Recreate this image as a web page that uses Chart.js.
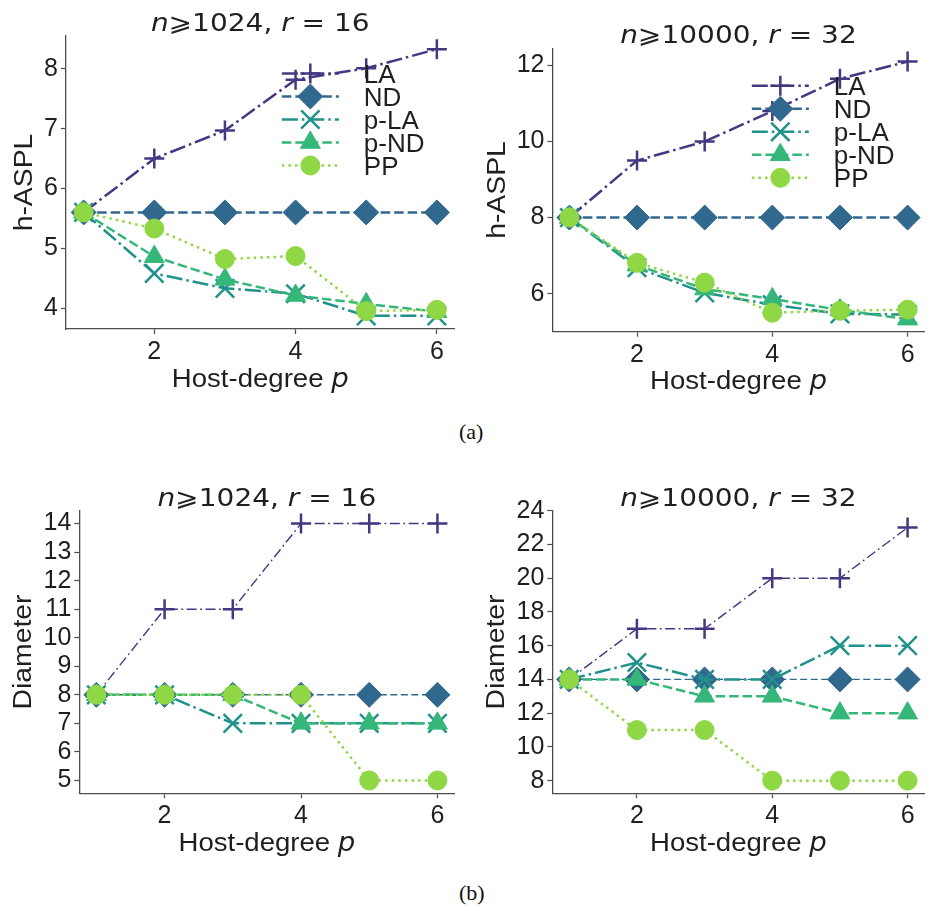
<!DOCTYPE html>
<html>
<head>
<meta charset="utf-8">
<script src="https://cdn.jsdelivr.net/npm/chart.js@4.4.1/dist/chart.umd.min.js"></script>
<style>
  html, body { margin: 0; padding: 0; background: #fff; overflow: hidden; }
  body { width: 930px; height: 911px; position: relative; }
  .panel { position: absolute; width: 470px; height: 400px; }
  .panel canvas { display: block; }
  .caption { position: absolute; left: 459px; font-family: "Liberation Serif", serif; font-size: 22px; line-height: 24px; color: #111; }
</style>
</head>
<body>
<div class="panel" style="left:0;top:0"><canvas id="asplN1024" width="470" height="400"></canvas></div>
<div class="panel" style="left:470px;top:0"><canvas id="asplN10000" width="470" height="400"></canvas></div>
<div class="caption" style="top:420px">(a)</div>
<div class="panel" style="left:0;top:460px"><canvas id="diamN1024" width="470" height="400"></canvas></div>
<div class="panel" style="left:470px;top:460px"><canvas id="diamN10000" width="470" height="400"></canvas></div>
<div class="caption" style="top:881px">(b)</div>

<script>
const hostDegree = [1, 2, 3, 4, 5, 6];
const methods = ['LA', 'ND', 'p-LA', 'p-ND', 'PP'];
const xTicks = [2, 4, 6];

// h-ASPL, n >= 1024, r = 16
const asplN1024LA  = [5.60, 6.50, 6.97, 7.82, 8.01, 8.33];
const asplN1024ND  = [5.60, 5.60, 5.60, 5.60, 5.60, 5.60];
const asplN1024PLA = [5.60, 4.58, 4.33, 4.24, 3.87, 3.87];
const asplN1024PND = [5.60, 4.86, 4.48, 4.21, 4.07, 3.94];
const asplN1024PP  = [5.60, 5.33, 4.82, 4.87, 3.95, 3.97];
const asplN1024Ticks = [4, 5, 6, 7, 8];

// h-ASPL, n >= 10000, r = 32
const asplN10000LA  = [8.00, 9.50, 10.00, 10.80, 11.65, 12.10];
const asplN10000ND  = [8.00, 8.00, 8.00, 8.00, 8.00, 8.00];
const asplN10000PLA = [8.00, 6.68, 6.02, 5.71, 5.47, 5.45];
const asplN10000PND = [8.00, 6.75, 6.12, 5.86, 5.57, 5.33];
const asplN10000PP  = [8.00, 6.81, 6.29, 5.50, 5.55, 5.58];
const asplN10000Ticks = [6, 8, 10, 12];

// Diameter, n >= 1024, r = 16
const diamN1024LA  = [8, 11, 11, 14, 14, 14];
const diamN1024ND  = [8, 8, 8, 8, 8, 8];
const diamN1024PLA = [8, 8, 7, 7, 7, 7];
const diamN1024PND = [8, 8, 8, 7, 7, 7];
const diamN1024PP  = [8, 8, 8, 8, 5, 5];
const diamN1024Ticks = [5, 6, 7, 8, 9, 10, 11, 12, 13, 14];

// Diameter, n >= 10000, r = 32
const diamN10000LA  = [14, 17, 17, 20, 20, 23];
const diamN10000ND  = [14, 14, 14, 14, 14, 14];
const diamN10000PLA = [14, 15, 14, 14, 16, 16];
const diamN10000PND = [14, 14, 13, 13, 12, 12];
const diamN10000PP  = [14, 11, 11, 8, 8, 8];
const diamN10000Ticks = [8, 10, 12, 14, 16, 18, 20, 22, 24];

const SANS = '"Liberation Sans"';
const MATH = '"DejaVu Sans"';
const ink = '#1f1f1f';
const spine = '#4d4d4d';
const tickFont = { family: 'Liberation Sans', size: 25 };
const tickLen = 5;
const tickPad = 3;

const seriesStyle = [
  { color: '#453781', pointStyle: 'cross',    radius: 10,   pattern: 'dashdot' },
  { color: '#31688e', pointStyle: 'rectRot',  radius: 12.5, pattern: 'dashed' },
  { color: '#21918c', pointStyle: 'crossRot', radius: 13,   pattern: 'dashdot' },
  { color: '#35b779', pointStyle: 'triangle', radius: 11.5, pattern: 'dashed' },
  { color: '#8fd744', pointStyle: 'circle',   radius: 9.5,  pattern: 'dotted' }
];

const dashes = {
  thick: { dashed: [9.5, 4], dashdot: [16, 4, 2.5, 4], dotted: [2.5, 4.1] },
  thin:  { dashed: [7, 3.5], dashdot: [10, 3.5, 1.8, 3.5], dotted: [1.5, 3] }
};

const xLabelRuns = [
  { text: 'Host-degree ', family: SANS },
  { text: 'p', family: MATH, italic: true }
];

function titleRuns(n, r) {
  return [
    { text: 'n', family: MATH, italic: true },
    { text: '\u2A7E' + n + ', ', family: MATH },
    { text: 'r', family: MATH, italic: true },
    { text: ' = ' + r, family: MATH }
  ];
}

// mixed-style text, stretched horizontally by sx
function drawRuns(ctx, runs, x, baseline, size, sx, align) {
  const fontOf = r => (r.italic ? 'italic ' : '') + size + 'px ' + r.family;
  let total = 0;
  const widths = runs.map(r => {
    ctx.font = fontOf(r);
    const w = ctx.measureText(r.text).width;
    total += w;
    return w;
  });
  const start = align === 'left' ? x : x - total * sx / 2;
  ctx.save();
  ctx.translate(start, baseline);
  ctx.scale(sx, 1);
  ctx.textAlign = 'left';
  ctx.textBaseline = 'alphabetic';
  let cur = 0;
  runs.forEach((r, i) => {
    ctx.font = fontOf(r);
    ctx.fillText(r.text, cur, 0);
    cur += widths[i];
  });
  ctx.restore();
}

function drawLegend(chart) {
  const ctx = chart.ctx;
  const a = chart.chartArea;
  const sets = chart.data.datasets;
  const size = 25, sx = 1.04;
  ctx.font = size + 'px ' + SANS;
  const widest = Math.max(...sets.map(d => ctx.measureText(d.label).width)) * sx;
  const textLeft = a.right - 30 - widest;
  const lineEnd = textLeft - 25;
  const lineStart = lineEnd - 57;
  const mx = (lineStart + lineEnd) / 2;
  sets.forEach((d, i) => {
    const y = a.top + 37.5 + i * 23;
    ctx.save();
    ctx.strokeStyle = d.borderColor;
    ctx.lineWidth = d.borderWidth;
    ctx.setLineDash(d.borderDash);
    ctx.beginPath();
    ctx.moveTo(lineStart, y);
    ctx.lineTo(lineEnd, y);
    ctx.stroke();
    ctx.setLineDash([]);
    ctx.fillStyle = d.pointBackgroundColor;
    ctx.strokeStyle = d.pointBorderColor;
    ctx.lineWidth = d.pointBorderWidth;
    Chart.helpers.drawPoint(ctx, {
      pointStyle: d.pointStyle, radius: d.pointRadius, rotation: 0, borderWidth: d.pointBorderWidth
    }, mx, y);
    ctx.restore();
    ctx.fillStyle = ink;
    drawRuns(ctx, [{ text: d.label, family: SANS }], textLeft, y + 9, size, sx, 'left');
  });
}

const annotate = {
  id: 'annotate',
  afterDraw(chart, args, opts) {
    const ctx = chart.ctx;
    const a = chart.chartArea;
    const cx = (a.left + a.right) / 2;
    ctx.save();
    ctx.fillStyle = ink;
    drawRuns(ctx, opts.title, cx, a.top - 5, 25, 1.12);
    drawRuns(ctx, xLabelRuns, cx, a.bottom + 57.5, 26, 1.06);

    // y label sits a fixed gap left of the widest tick label
    ctx.font = tickFont.size + 'px ' + SANS;
    const widest = Math.max(...chart.scales.y.ticks.map(t => ctx.measureText(String(t.label)).width));
    ctx.save();
    ctx.translate(a.left - tickLen - tickPad - widest - 12, (a.top + a.bottom) / 2);
    ctx.rotate(-Math.PI / 2);
    drawRuns(ctx, [{ text: opts.yLabel, family: SANS }], 0, 0, 26, 1.09);
    ctx.restore();

    if (opts.legend) drawLegend(chart);
    ctx.restore();
  }
};

function axisStyle() {
  return {
    grid: { display: true, drawOnChartArea: false, drawTicks: true, tickLength: tickLen, tickColor: spine, tickWidth: 1.2 },
    border: { display: true, color: spine, width: 1.3 },
    ticks: { font: tickFont, color: ink, padding: tickPad, maxRotation: 0, autoSkip: false }
  };
}

function makeChart(id, cfg) {
  const canvas = document.getElementById(id);
  const W = canvas.width, H = canvas.height;
  const area = cfg.area;

  const datasets = methods.map((name, i) => {
    const st = seriesStyle[i];
    const thin = cfg.thin.includes(name);
    const lw = thin ? 1.4 : 2.5;
    const isCross = st.pointStyle === 'cross' || st.pointStyle === 'crossRot';
    return {
      label: name,
      data: hostDegree.map((x, j) => ({ x: x, y: cfg.series[i][j] })),
      borderColor: st.color,
      backgroundColor: st.color,
      borderWidth: lw,
      borderDash: dashes[thin ? 'thin' : 'thick'][st.pattern],
      pointStyle: st.pointStyle,
      pointRadius: st.radius,
      pointHoverRadius: st.radius,
      pointBorderWidth: isCross ? 2.5 : 1,
      pointBackgroundColor: st.color,
      pointBorderColor: st.color,
      tension: 0,
      fill: false,
      clip: false,
      order: methods.length - i
    };
  });

  const x = axisStyle();
  Object.assign(x, {
    type: 'linear', min: 0.75, max: 6.25,
    afterBuildTicks: s => { s.ticks = xTicks.map(v => ({ value: v })); },
    afterFit: s => { s.height = H - area.bottom; }
  });
  const y = axisStyle();
  Object.assign(y, {
    type: 'linear', min: cfg.yMin, max: cfg.yMax,
    afterBuildTicks: s => { s.ticks = cfg.yTicks.map(v => ({ value: v })); },
    afterFit: s => { s.width = area.left; }
  });

  return new Chart(canvas, {
    type: 'line',
    data: { datasets: datasets },
    options: {
      responsive: false,
      devicePixelRatio: 1,
      animation: false,
      events: [],
      layout: { padding: { left: 0, top: area.top, right: W - area.right, bottom: 0 } },
      scales: { x: x, y: y },
      plugins: {
        legend: { display: false },
        tooltip: { enabled: false },
        annotate: { title: cfg.title, yLabel: cfg.yLabel, legend: cfg.legend }
      }
    },
    plugins: [annotate]
  });
}

makeChart('asplN1024', {
  area: { left: 66, top: 36, right: 459, bottom: 329 },
  series: [asplN1024LA, asplN1024ND, asplN1024PLA, asplN1024PND, asplN1024PP],
  yTicks: asplN1024Ticks, yMin: 3.65, yMax: 8.55,
  yLabel: 'h-ASPL', title: titleRuns('1024', '16'), legend: true, thin: []
});

makeChart('asplN10000', {
  area: { left: 82.5, top: 48.3, right: 462, bottom: 331.7 },
  series: [asplN10000LA, asplN10000ND, asplN10000PLA, asplN10000PND, asplN10000PP],
  yTicks: asplN10000Ticks, yMin: 5.0, yMax: 12.45,
  yLabel: 'h-ASPL', title: titleRuns('10000', '32'), legend: true, thin: []
});

makeChart('diamN1024', {
  area: { left: 79.3, top: 50.7, right: 459.3, bottom: 333.3 },
  series: [diamN1024LA, diamN1024ND, diamN1024PLA, diamN1024PND, diamN1024PP],
  yTicks: diamN1024Ticks, yMin: 4.55, yMax: 14.45,
  yLabel: 'Diameter', title: titleRuns('1024', '16'), legend: false, thin: ['LA', 'ND']
});

makeChart('diamN10000', {
  area: { left: 82.3, top: 50.7, right: 462, bottom: 333.3 },
  series: [diamN10000LA, diamN10000ND, diamN10000PLA, diamN10000PND, diamN10000PP],
  yTicks: diamN10000Ticks, yMin: 7.25, yMax: 24,
  yLabel: 'Diameter', title: titleRuns('10000', '32'), legend: false, thin: ['LA', 'ND']
});
</script>
</body>
</html>
